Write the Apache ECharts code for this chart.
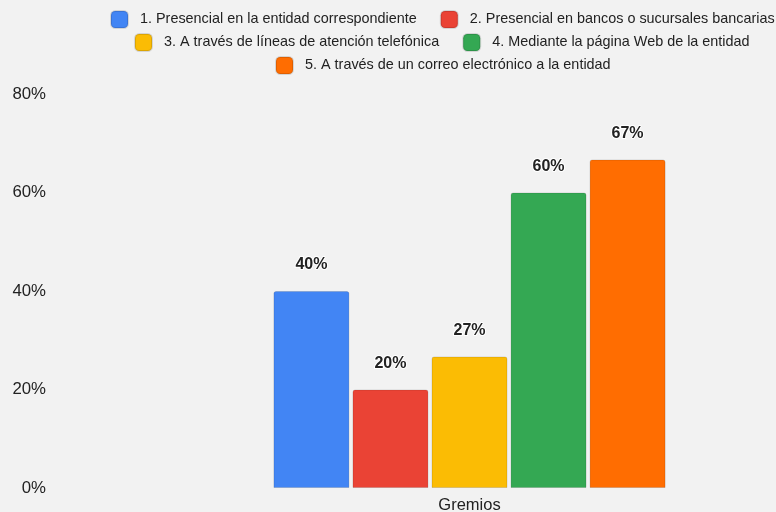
<!DOCTYPE html>
<html><head><meta charset="utf-8">
<script src="https://cdn.jsdelivr.net/npm/echarts@6/dist/echarts.min.js"></script>
<style>html,body{margin:0;padding:0;background:#f2f2f2}#c{width:776px;height:512px}</style>
</head><body><div id="c"></div>
<script>
const categories = ['Gremios'];
const seriesNames = [
  '1. Presencial en la entidad correspondiente',
  '2. Presencial en bancos o sucursales bancarias',
  '3. A través de líneas de atención telefónica',
  '4. Mediante la página Web de la entidad',
  '5. A través de un correo electrónico a la entidad'
];
const values1 = [40];
const values2 = [20];
const values3 = [26.7];
const values4 = [60];
const values5 = [66.7];
const yTicks = [0, 20, 40, 60, 80];
const colors = ['#4285f4', '#ea4335', '#fbbc04', '#34a853', '#ff6d01'];
const allValues = [values1, values2, values3, values4, values5];

const FONT = '"Liberation Sans", Arial, sans-serif';
const legendBase = {
  orient: 'horizontal', itemWidth: 17, itemHeight: 17, itemGap: 23, icon: 'roundRect',
  padding: 0,
  textStyle: { fontFamily: FONT, fontSize: 14.4, color: '#222', padding: [0, 0, 0, 7] },
  selectedMode: false
};
const chart = echarts.init(document.getElementById('c'), null, { renderer: 'canvas' });
chart.setOption({
  backgroundColor: '#f2f2f2',
  animation: false,
  legend: [
    Object.assign({}, legendBase, { left: 110, top: 10, data: [seriesNames[0], seriesNames[1]] }),
    Object.assign({}, legendBase, { left: 134, top: 33, data: [seriesNames[2], seriesNames[3]] }),
    Object.assign({}, legendBase, { left: 275, top: 56, data: [seriesNames[4]] })
  ],
  grid: { left: 163, right: 0, top: 94, bottom: 24, containLabel: false, outerBoundsMode: 'none' },
  xAxis: {
    type: 'category', data: categories,
    axisLine: { show: false }, axisTick: { show: false },
    axisLabel: { fontFamily: FONT, fontSize: 16.5, color: '#222', margin: 9 }
  },
  yAxis: {
    type: 'value', min: yTicks[0], max: yTicks[yTicks.length - 1], interval: 20,
    splitLine: { show: false }, axisLine: { show: false }, axisTick: { show: false },
    axisLabel: { fontFamily: FONT, fontSize: 16.8, color: '#222', margin: 117, formatter: '{value}%' }
  },
  series: allValues.map((v, i) => ({
    name: seriesNames[i], type: 'bar', data: v,
    barWidth: 76, barGap: '4%',
    itemStyle: { color: colors[i], borderRadius: [2, 2, 0, 0], borderColor: 'rgba(0,0,0,0.12)', borderWidth: 1 },
    label: {
      show: true, position: 'top', distance: 18,
      formatter: p => Math.round(p.value) + '%',
      fontFamily: FONT, fontSize: 16, fontWeight: 'bold', color: '#222',
      textBorderColor: '#ffffff', textBorderWidth: 2
    }
  }))
});
</script></body></html>
